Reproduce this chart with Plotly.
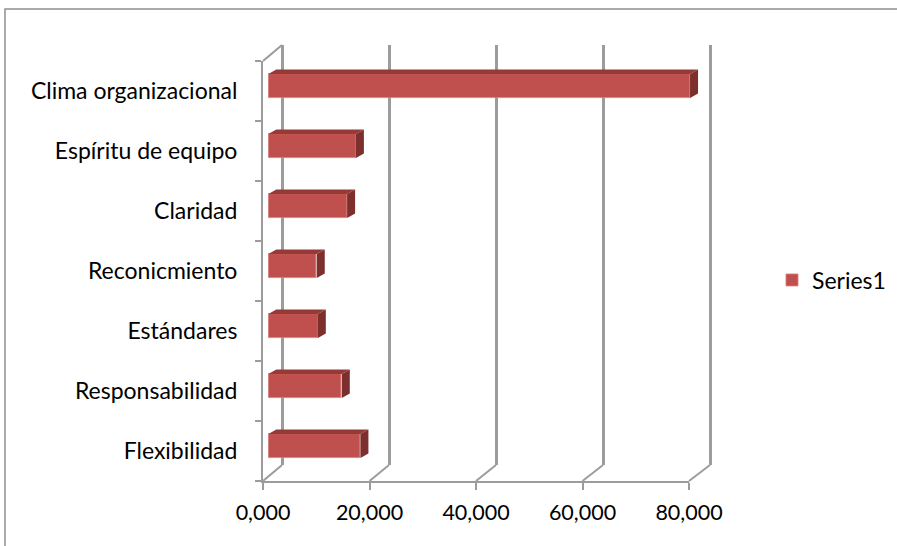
import plotly.graph_objects as go

# ---- data (top to bottom as shown) ----
categories = ["Clima organizacional", "Espíritu de equipo", "Claridad",
              "Reconicmiento", "Estándares", "Responsabilidad", "Flexibilidad"]
values = [79200, 16450, 14800, 9100, 9300, 13800, 17300]
series_name = "Series1"
x_tickvals = [0, 20000, 40000, 60000, 80000]
x_ticktext = ["0,000", "20,000", "40,000", "60,000", "80,000"]

# bottom-to-top order for numeric y positions
cats_bt = categories[::-1]
vals_bt = values[::-1]
ypos = list(range(len(cats_bt)))

W, H = 897, 546
def px(x): return x / W
def py(y): return 1 - y / H

FONT = "Lato"
GRID = "#9c9c9c"
FRONT = "#C0504D"
TOPC = "#953A37"
SIDEC = "#7D2F2D"

# geometry (pixels)
fx0, fx1, fy0, fy1 = 263, 689, 61, 481          # front plane
bx0, bx1, by0, by1 = 282, 710, 45, 465          # back wall
xmax = 80000
sf = (fx1 - fx0) / xmax
sb = (bx1 - bx0) / xmax
pad = 400
# bar plane (slightly behind front)
rx0, rdy = 268.3, -5
rmax = 90000
bar_w = 0.4
ddx = 8 / sf            # depth of bar in data units
ddy = 4.5 / 60          # depth of bar in category units

fig = go.Figure()

# back wall subplot (gridlines) - x/y
fig.add_trace(go.Scatter(x=[], y=[], xaxis="x", yaxis="y", showlegend=False, hoverinfo="skip"))
# front plane subplot - x2/y2
fig.add_trace(go.Scatter(x=[], y=[], xaxis="x2", yaxis="y2", showlegend=False, hoverinfo="skip"))

# bars - front faces
fig.add_trace(go.Bar(
    x=vals_bt, y=ypos, orientation="h", width=bar_w, name=series_name,
    marker=dict(color=FRONT, line=dict(width=0.8, color="#d9807d")),
    xaxis="x3", yaxis="y3", showlegend=True))

# top and side faces computed from the values
for v, c in zip(vals_bt, ypos):
    t = c + bar_w / 2
    b = c - bar_w / 2
    fig.add_trace(go.Scatter(
        x=[0, v, v + ddx, ddx, 0], y=[t, t, t + ddy, t + ddy, t],
        fill="toself", fillcolor=TOPC, mode="lines", line=dict(width=0, color=TOPC),
        xaxis="x3", yaxis="y3", showlegend=False, hoverinfo="skip"))
    fig.add_trace(go.Scatter(
        x=[v, v + ddx, v + ddx, v, v], y=[t, t + ddy, b + ddy, b, t],
        fill="toself", fillcolor=SIDEC, mode="lines", line=dict(width=0, color=SIDEC),
        xaxis="x3", yaxis="y3", showlegend=False, hoverinfo="skip"))

shapes = []
# floor diagonals
for t in x_tickvals:
    shapes.append(dict(type="line", xref="paper", yref="paper",
                       x0=px(fx0 + t * sf), y0=py(fy1), x1=px(bx0 + t * sb), y1=py(by1),
                       line=dict(color=GRID, width=2)))
# left wall top diagonal
shapes.append(dict(type="line", xref="paper", yref="paper",
                   x0=px(fx0), y0=py(fy0), x1=px(bx0), y1=py(by0),
                   line=dict(color=GRID, width=2)))
# chart border
shapes.append(dict(type="rect", xref="paper", yref="paper",
                   x0=px(5), y0=py(9), x1=px(905), y1=py(560),
                   line=dict(color="#8f8f8f", width=1.5), fillcolor="rgba(0,0,0,0)"))

fig.update_layout(
    width=W, height=H, margin=dict(l=0, r=0, t=0, b=0, autoexpand=False),
    paper_bgcolor="white", plot_bgcolor="rgba(0,0,0,0)",
    font=dict(family=FONT, size=20, color="#000000"),
    bargap=0,
    shapes=shapes,
    xaxis=dict(domain=[px(bx0 - pad * sb), px(bx1 + pad * sb)], range=[-pad, xmax + pad],
               anchor="y", tickmode="linear", tick0=0, dtick=20000,
               showgrid=True, gridcolor=GRID, gridwidth=2.5, zeroline=False,
               showticklabels=False, ticks="", showline=False),
    yaxis=dict(domain=[py(by1), py(by0)], range=[-0.5, 6.5], anchor="x",
               showgrid=False, zeroline=False, showticklabels=False, ticks="", showline=False),
    xaxis2=dict(domain=[px(fx0), px(fx1)], range=[0, xmax], anchor="y2",
                tickmode="array", tickvals=x_tickvals, ticktext=x_ticktext,
                ticks="outside", ticklen=7, tickwidth=2, tickcolor=GRID,
                showline=True, linecolor=GRID, linewidth=2,
                showgrid=False, zeroline=False, ticklabelstandoff=4,
                tickfont=dict(family=FONT, size=21.5, color="#000")),
    yaxis2=dict(domain=[py(fy1), py(fy0)], range=[-0.5, 6.5], anchor="x2",
                tickmode="array", tickvals=ypos, ticktext=cats_bt, ticks="",
                minor=dict(ticks="outside", tickmode="linear", tick0=0.5, dtick=1,
                           ticklen=6, tickwidth=2, tickcolor=GRID),
                showline=True, linecolor=GRID, linewidth=2,
                showgrid=False, zeroline=False, ticklabelstandoff=19,
                tickfont=dict(family=FONT, size=23, color="#000")),
    xaxis3=dict(domain=[px(rx0), px(rx0 + rmax * sf)], range=[0, rmax], anchor="y3",
                visible=False),
    yaxis3=dict(domain=[py(fy1 + rdy), py(fy0 + rdy)], range=[-0.5, 6.5], anchor="x3",
                visible=False),
    legend=dict(x=px(772), y=py(280), xanchor="left", yanchor="middle",
                font=dict(family=FONT, size=23, color="#000"), bgcolor="rgba(0,0,0,0)"),
)

fig.write_html("out.html")
